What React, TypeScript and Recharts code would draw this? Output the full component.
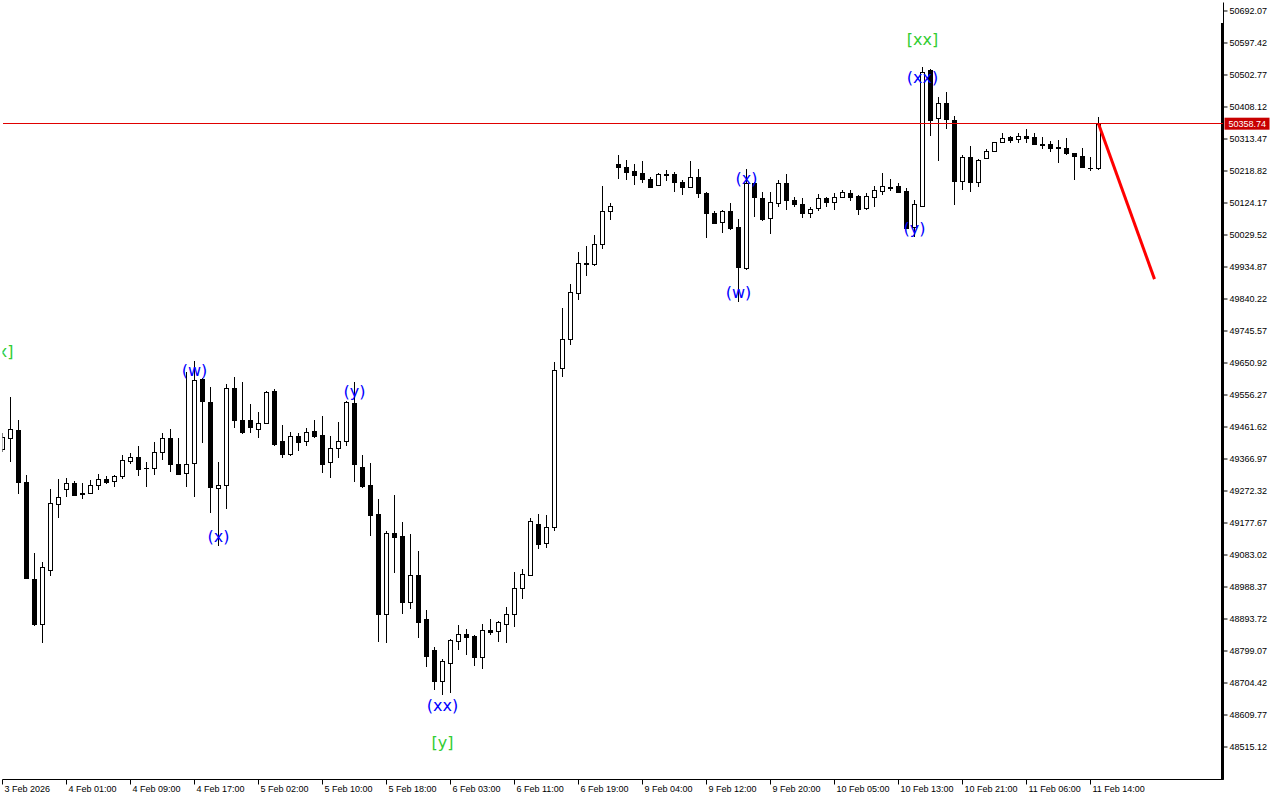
import { ComposedChart, Bar, Line, Scatter, XAxis, YAxis, ReferenceLine } from 'recharts';

// H1 candles, 3 Feb 17:00 .. 11 Feb 15:00
const opens = [
  49396.6, 49428.2, 49452.8, 49298.1, 49011.1, 48879.8, 49037.8, 49233.0, 49279.1, 49295.1,
  49265.5, 49265.5, 49289.2, 49306.9, 49301.0, 49315.8, 49361.9, 49372.0, 49340.4, 49339.5,
  49386.8, 49428.2, 49351.3, 49324.7, 49354.3, 49603.6, 49534.7, 49280.3, 49289.2, 49576.1,
  49481.5, 49481.5, 49455.7, 49472.6, 49568.1, 49420.2, 49380.9, 49434.1, 49420.2, 49448.9,
  49438.0, 49357.2, 49398.6, 49420.2, 49531.7, 49342.4, 49289.2, 49203.4, 48907.6, 49147.2,
  49139.2, 48943.1, 49023.9, 48893.7, 48802.0, 48711.3, 48764.4, 48829.5, 48849.3, 48843.4,
  48782.2, 48861.2, 48859.1, 48878.0, 48907.6, 48984.5, 49023.9, 49173.8, 49117.6, 49164.9,
  49635.3, 49721.1, 49857.1, 49945.8, 49942.8, 50002.0, 50099.6, 50239.5, 50230.6, 50218.8,
  50212.0, 50194.2, 50176.5, 50209.0, 50209.0, 50185.4, 50172.3, 50200.1, 50152.8, 50093.7,
  50067.0, 50099.6, 50052.2, 49932.7, 50184.2, 50138.0, 50078.9, 50123.2, 50182.4, 50133.0,
  50121.2, 50093.7, 50108.4, 50138.0, 50126.2, 50141.0, 50152.8, 50144.8, 50108.4, 50142.8,
  50160.5, 50170.6, 50174.4, 50159.6, 50054.0, 50116.1, 50517.5, 50374.7, 50419.0, 50369.6,
  50190.1, 50259.3, 50187.1, 50256.3, 50277.9, 50303.7, 50318.5, 50312.5, 50321.4, 50318.5,
  50298.6, 50297.8, 50288.9, 50285.9, 50271.1, 50263.2, 50228.8, 50226.8,
];
const highs = [
  49443.9, 49551.3, 49482.3, 49319.6, 49089.8, 49063.2, 49278.2, 49307.8, 49311.7, 49301.0,
  49295.1, 49304.9, 49322.6, 49316.7, 49319.6, 49377.9, 49383.8, 49405.4, 49358.1, 49418.2,
  49443.0, 49455.7, 49428.2, 49625.2, 49656.9, 49606.6, 49579.1, 49357.2, 49588.8, 49608.6,
  49593.9, 49528.8, 49505.1, 49568.1, 49574.0, 49467.6, 49446.0, 49443.0, 49457.8, 49482.3,
  49494.2, 49435.0, 49475.5, 49538.5, 49594.7, 49378.8, 49354.3, 49248.7, 49154.0, 49260.5,
  49179.7, 49145.1, 49094.8, 48920.3, 48811.8, 48775.4, 48834.6, 48875.9, 48864.1, 48846.4,
  48878.9, 48893.7, 48887.8, 48928.3, 49031.8, 49040.7, 49191.6, 49204.3, 49201.3, 49653.9,
  49813.6, 49884.6, 49979.2, 49996.9, 50029.5, 50174.4, 50123.2, 50266.1, 50251.3, 50239.5,
  50248.3, 50201.9, 50212.0, 50221.7, 50215.9, 50192.2, 50248.3, 50223.8, 50157.6, 50101.3,
  50103.4, 50125.0, 50075.9, 50223.8, 50187.2, 50157.6, 50157.6, 50192.2, 50209.9, 50142.8,
  50138.0, 50113.2, 50149.9, 50142.8, 50152.8, 50162.6, 50162.6, 50147.8, 50154.6, 50174.4,
  50212.0, 50195.1, 50184.2, 50167.6, 50133.0, 50527.3, 50520.5, 50438.6, 50453.4, 50381.5,
  50266.1, 50292.7, 50254.3, 50283.9, 50306.0, 50332.1, 50322.3, 50330.3, 50342.1, 50330.3,
  50318.5, 50307.8, 50310.8, 50317.3, 50272.0, 50285.9, 50261.1, 50379.4,
];
const lows = [
  49387.7, 49359.0, 49263.4, 49011.1, 48873.9, 48823.6, 49021.8, 49191.6, 49255.5, 49257.5,
  49249.5, 49264.0, 49275.3, 49293.0, 49285.0, 49306.9, 49352.2, 49316.7, 49285.0, 49319.6,
  49364.0, 49329.4, 49318.8, 49283.3, 49255.5, 49413.4, 49206.4, 49110.5, 49219.1, 49459.6,
  49440.0, 49444.8, 49430.0, 49470.5, 49406.3, 49370.8, 49377.0, 49390.6, 49406.3, 49430.0,
  49326.5, 49311.7, 49369.0, 49406.3, 49299.8, 49282.1, 49140.1, 48826.6, 48821.8, 49030.7,
  48907.6, 48924.2, 48836.6, 48750.8, 48683.8, 48669.0, 48674.0, 48802.0, 48787.2, 48754.7,
  48745.8, 48846.4, 48826.6, 48821.8, 48870.9, 48952.0, 49021.0, 49099.9, 49102.8, 49154.9,
  49610.4, 49705.1, 49837.3, 49909.1, 49938.7, 49988.1, 50073.8, 50196.0, 50192.2, 50178.3,
  50184.2, 50169.4, 50174.4, 50190.1, 50157.6, 50148.7, 50167.6, 50139.8, 50021.5, 50062.0,
  50034.5, 50044.3, 49832.3, 49925.9, 50081.8, 50071.8, 50031.5, 50113.2, 50103.4, 50111.4,
  50080.6, 50080.6, 50101.3, 50113.2, 50103.4, 50140.0, 50130.9, 50088.6, 50103.4, 50113.2,
  50147.8, 50160.5, 50152.8, 50047.3, 50022.7, 50114.0, 50322.3, 50249.2, 50343.0, 50118.2,
  50162.6, 50157.6, 50172.3, 50253.4, 50276.0, 50300.7, 50300.7, 50300.7, 50300.7, 50297.0,
  50283.0, 50275.9, 50243.3, 50266.1, 50192.2, 50226.8, 50219.7, 50221.7,
];
const closes = [
  49432.0, 49454.8, 49299.8, 49015.9, 48879.8, 49046.6, 49235.9, 49253.7, 49295.1, 49261.4,
  49264.0, 49289.2, 49306.9, 49299.8, 49315.8, 49364.0, 49372.0, 49338.3, 49339.2, 49386.8,
  49428.2, 49353.1, 49323.5, 49351.3, 49600.7, 49539.4, 49285.0, 49289.2, 49576.1, 49483.2,
  49447.7, 49462.5, 49472.6, 49564.3, 49412.2, 49380.9, 49434.1, 49418.2, 49446.0, 49435.9,
  49351.3, 49398.6, 49420.2, 49534.7, 49351.3, 49288.0, 49202.2, 48907.6, 49147.2, 49137.1,
  48943.1, 49023.9, 48885.7, 48784.3, 48711.3, 48769.5, 48831.6, 48848.4, 48841.3, 48782.2,
  48861.2, 48856.1, 48883.9, 48907.6, 48984.5, 49025.9, 49183.6, 49114.7, 49164.9, 49630.2,
  49721.1, 49860.1, 49945.8, 49943.7, 50002.0, 50099.6, 50115.3, 50229.7, 50216.7, 50207.8,
  50194.2, 50172.3, 50209.0, 50207.8, 50185.4, 50172.3, 50200.1, 50152.8, 50093.7, 50065.9,
  50099.6, 50051.1, 49935.7, 50182.4, 50141.0, 50076.8, 50126.2, 50182.4, 50133.0, 50120.3,
  50093.7, 50105.5, 50138.0, 50126.2, 50141.0, 50155.8, 50142.8, 50106.4, 50144.8, 50162.6,
  50174.4, 50170.0, 50157.6, 50049.3, 50120.3, 50512.5, 50369.6, 50419.0, 50371.7, 50190.1,
  50261.1, 50187.1, 50251.3, 50277.9, 50303.7, 50315.5, 50310.5, 50322.3, 50317.3, 50297.8,
  50297.2, 50287.7, 50286.8, 50271.1, 50263.2, 50231.5, 50226.7, 50358.74,
];

const timeTicks = [0, 8, 16, 24, 32, 40, 48, 56, 64, 72, 80, 88, 96, 104, 112, 120, 128, 136];
const timeLabels = [
  '3 Feb 2026', '4 Feb 01:00', '4 Feb 09:00', '4 Feb 17:00', '5 Feb 02:00', '5 Feb 10:00',
  '5 Feb 18:00', '6 Feb 03:00', '6 Feb 11:00', '6 Feb 19:00', '9 Feb 04:00', '9 Feb 12:00',
  '9 Feb 20:00', '10 Feb 05:00', '10 Feb 13:00', '10 Feb 21:00', '11 Feb 06:00', '11 Feb 14:00',
];
const priceTicks = [
  50692.07, 50597.42, 50502.77, 50408.12, 50313.47, 50218.82, 50124.17, 50029.52,
  49934.87, 49840.22, 49745.57, 49650.92, 49556.27, 49461.62, 49366.97, 49272.32,
  49177.67, 49083.02, 48988.37, 48893.72, 48799.07, 48704.42, 48609.77, 48515.12,
];

// wave markup
const waveIdx = [0, 24, 27, 44, 55, 55, 92, 93, 114, 115, 115];
const wavePrice = [49686.4, 49627.3, 49136.3, 49568.1, 48636.4, 48527.0, 49858.0, 50195.2, 50047.3, 50496.8, 50606.3];
const waveText = ['[x]', '(w)', '(x)', '(y)', '(xx)', '[y]', '(w)', '(x)', '(y)', '(xx)', '[xx]'];

// projected move
const forecastIdx = [137, 144];
const forecastPrice = [50358.74, 49899];

const lastPrice = 50358.74;
const X_DOMAIN: [number, number] = [0, 152.625];
const Y_DOMAIN: [number, number] = [48419.0, 50717.21];
const FONT = '"Liberation Sans", Arial, sans-serif';

const candles = opens.map((o, k) => ({ i: k, open: o, high: highs[k], low: lows[k], close: closes[k] }));
const waves = waveIdx.map((i, k) => ({
  i,
  p: wavePrice[k],
  text: waveText[k],
  color: waveText[k].startsWith('[') ? '#32cd32' : '#0000ff',
}));
const forecast = forecastIdx.map((i, k) => ({ i, p: forecastPrice[k] }));

const Candle = (props: any) => {
  const { x, y, width, height, payload } = props;
  if (payload == null) return null;
  const top = Math.min(y, y + height);
  const bottom = Math.max(y, y + height);
  const { open, close, high, low } = payload;
  const span = high - low || 1;
  const toY = (v: number) => top + ((high - v) / span) * (bottom - top);
  const cx = Math.floor(x + width / 2) + 0.5;
  const bTop = Math.round(toY(Math.max(open, close)));
  const bBot = Math.round(toY(Math.min(open, close)));
  const up = close >= open;
  return (
    <g>
      <line x1={cx} x2={cx} y1={Math.round(top)} y2={Math.round(bottom)} stroke="#000" strokeWidth={1} />
      {bBot - bTop < 1 ? (
        <line x1={cx - 2.5} x2={cx + 2.5} y1={bTop + 0.5} y2={bTop + 0.5} stroke="#000" strokeWidth={1} />
      ) : (
        <rect x={cx - 2} y={bTop + 0.5} width={4} height={bBot - bTop} fill={up ? '#fff' : '#000'} stroke="#000" strokeWidth={1} />
      )}
    </g>
  );
};

const WaveLabel = (props: any) => {
  const { cx, cy, payload } = props;
  if (payload == null) return null;
  return (
    <text x={cx} y={cy} textAnchor="middle" dominantBaseline="central" fontFamily='"DejaVu Sans", sans-serif' fontSize={16} fill={payload.color}>
      {payload.text}
    </text>
  );
};

const TimeTick = (props: any) => {
  const { x, y, payload } = props;
  const k = timeTicks.indexOf(payload.value);
  return (
    <text x={x + 2} y={y + 7} textAnchor="start" fontFamily={FONT} fontSize={9} fill="#000">
      {timeLabels[k]}
    </text>
  );
};

const PriceTag = (props: any) => {
  const { viewBox } = props;
  if (!viewBox) return null;
  const left = viewBox.x + viewBox.width + 1;
  return (
    <g>
      <rect x={left} y={viewBox.y - 6} width={45} height={12} fill="#c80000" />
      <text x={left + 4} y={viewBox.y + 3.5} fontFamily={FONT} fontSize={9} fill="#fff">
        {lastPrice.toFixed(2)}
      </text>
    </g>
  );
};

export default function App() {
  return (
    <div style={{ width: 1280, height: 800, background: '#fff' }}>
      <style>{'body{margin:0}'}</style>
      <ComposedChart width={1280} height={800} data={candles} margin={{ top: 2.5, right: 0, bottom: 0, left: 2.5 }}>
        <XAxis
          dataKey="i"
          type="number"
          domain={X_DOMAIN}
          allowDataOverflow
          ticks={timeTicks}
          interval={0}
          height={20.5}
          tickSize={5}
          tickMargin={0}
          tick={<TimeTick />}
          axisLine={{ stroke: '#000' }}
          tickLine={{ stroke: '#000' }}
        />
        <XAxis xAxisId="frame" orientation="top" type="number" domain={X_DOMAIN} allowDataOverflow height={0} tick={false} tickLine={false} axisLine={{ stroke: '#000' }} />
        <YAxis
          orientation="right"
          type="number"
          domain={Y_DOMAIN}
          allowDataOverflow
          ticks={priceTicks}
          interval={0}
          width={56.5}
          tickSize={4}
          tickMargin={2}
          tickFormatter={(v: number) => v.toFixed(2)}
          tick={{ fontFamily: FONT, fontSize: 9, fill: '#000' }}
          axisLine={{ stroke: '#000' }}
          tickLine={{ stroke: '#000' }}
        />
        <YAxis yAxisId="frame" orientation="left" type="number" domain={Y_DOMAIN} allowDataOverflow width={0} tick={false} tickLine={false} axisLine={{ stroke: '#000' }} />
        <ReferenceLine
          segment={[{ x: 152.5, y: 50656.6 }, { x: 152.5, y: Y_DOMAIN[0] }]}
          stroke="#000"
          strokeWidth={3}
          ifOverflow="visible"
        />
        <ReferenceLine y={lastPrice} stroke="#e00000" strokeWidth={1} shapeRendering="crispEdges" label={<PriceTag />} />
        <Bar dataKey={(d: any) => [d.low, d.high]} barSize={5} shape={<Candle />} isAnimationActive={false} />
        <Line data={forecast} dataKey="p" stroke="#ff0000" strokeWidth={3} dot={false} activeDot={false} isAnimationActive={false} />
        <Scatter data={waves} dataKey="p" shape={<WaveLabel />} isAnimationActive={false} />
      </ComposedChart>
    </div>
  );
}
